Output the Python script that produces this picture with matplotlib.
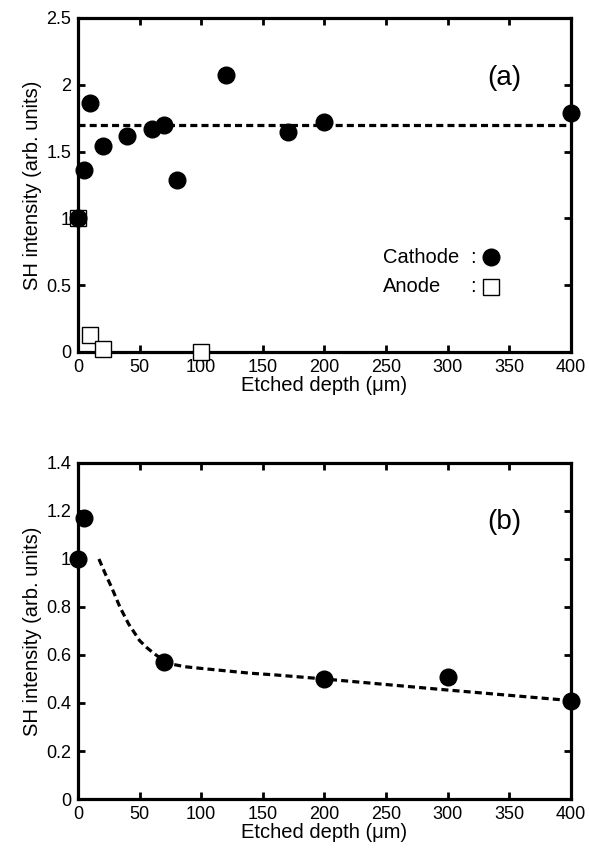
# SH intensity vs etched depth, panels (a) and (b)
import numpy as np
import matplotlib
matplotlib.use('Agg')
import matplotlib.pyplot as plt
from matplotlib.ticker import FormatStrFormatter, MultipleLocator

plt.rcParams['font.family'] = ['Liberation Sans', 'DejaVu Sans']

# panel (a) data
cathode_a_x = [0, 5, 10, 20, 40, 60, 70, 80, 120, 170, 200, 400]
cathode_a_y = [1.0, 1.36, 1.86, 1.54, 1.62, 1.67, 1.70, 1.29, 2.07, 1.65, 1.72, 1.79]
anode_a_x = [0, 10, 20, 100]
anode_a_y = [1.0, 0.13, 0.02, 0.0]
level_a = 1.7

# panel (b) data
cathode_b_x = [0, 5, 70, 200, 300, 400]
cathode_b_y = [1.0, 1.17, 0.57, 0.50, 0.51, 0.41]
fit_b_x = [17, 22, 27, 34, 41, 50, 56, 62, 66, 70, 78, 87, 108, 140, 160, 200, 300, 400]
fit_b_y = [1.0, 0.94, 0.885, 0.80, 0.73, 0.66, 0.63, 0.605, 0.59, 0.574, 0.560, 0.551,
           0.540, 0.524, 0.517, 0.50, 0.454, 0.41]

xticks = [0, 50, 100, 150, 200, 250, 300, 350, 400]

fig = plt.figure(figsize=(5.89, 8.52), dpi=100)
ax1 = fig.add_axes([0.1324, 0.5869, 0.837, 0.392])
ax2 = fig.add_axes([0.1324, 0.0622, 0.837, 0.3944])

ms = 12
dash = (2.2, 1.3)

def style(ax, ymax, ystep):
    ax.set_xlim(0, 400)
    ax.set_ylim(0, ymax)
    ax.set_xticks(xticks)
    ax.yaxis.set_major_locator(MultipleLocator(ystep))
    ax.yaxis.set_major_formatter(FormatStrFormatter('%g'))
    ax.tick_params(direction='in', length=5, width=2, top=True, right=True,
                   labelsize=13, pad=5)
    for s in ax.spines.values():
        s.set_linewidth(2.3)
    ax.set_xlabel('Etched depth (\u03bcm)', fontsize=14.5, labelpad=0)
    ax.set_ylabel('SH intensity (arb. units)', fontsize=14.5, labelpad=3)

# (a)
ax1.plot([0, 400], [level_a, level_a], color='black', lw=2.3, ls=(0, dash), zorder=2)
ax1.plot(anode_a_x, anode_a_y, 's', ms=ms, mfc='white', mec='black', mew=1,
         clip_on=False, zorder=5)
ax1.plot(cathode_a_x, cathode_a_y, 'o', ms=ms, color='black', clip_on=False, zorder=6)
style(ax1, 2.5, 0.5)
ax1.text(0.865, 0.82, '(a)', transform=ax1.transAxes, fontsize=20, ha='center', va='center')
ax1.text(0.619, 0.284, 'Cathode', transform=ax1.transAxes, fontsize=14.5, va='center')
ax1.text(0.619, 0.195, 'Anode', transform=ax1.transAxes, fontsize=14.5, va='center')
ax1.text(0.801, 0.284, ':', transform=ax1.transAxes, fontsize=14.5, va='center', ha='center')
ax1.text(0.801, 0.195, ':', transform=ax1.transAxes, fontsize=14.5, va='center', ha='center')
ax1.plot([0.838], [0.284], 'o', ms=ms, color='black', transform=ax1.transAxes)
ax1.plot([0.838], [0.195], 's', ms=ms, mfc='white', mec='black', mew=1,
         transform=ax1.transAxes)

# (b)
ax2.plot(fit_b_x, fit_b_y, color='black', lw=2.3, ls=(0, dash), zorder=2)
ax2.plot(cathode_b_x, cathode_b_y, 'o', ms=ms, color='black', clip_on=False, zorder=6)
style(ax2, 1.4, 0.2)
ax2.text(0.865, 0.825, '(b)', transform=ax2.transAxes, fontsize=20, ha='center', va='center')

fig.savefig('out.png', dpi=100)
